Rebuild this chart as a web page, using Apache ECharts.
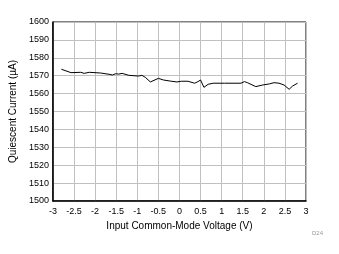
<!DOCTYPE html>
<html>
<head>
<meta charset="utf-8">
<script src="https://cdn.jsdelivr.net/npm/echarts@6/dist/echarts.min.js"></script>
<style>
  html, body { margin: 0; padding: 0; background: #fff; }
  #main { width: 339px; height: 254px; }
</style>
</head>
<body>
<div id="main"></div>
<script>
// values
var voltage = [-2.8, -2.57, -2.34, -2.26, -2.14, -1.87, -1.67, -1.59, -1.51, -1.44, -1.36, -1.2,
  -0.97, -0.89, -0.81, -0.69, -0.5, -0.38, -0.22, -0.06, 0.05, 0.2, 0.36, 0.44, 0.5, 0.58,
  0.68, 0.8, 1.07, 1.46, 1.54, 1.61, 1.81, 1.97, 2.13, 2.24, 2.36, 2.48, 2.6, 2.68, 2.8];
var current = [1573.6, 1571.7, 1571.9, 1571.3, 1571.9, 1571.5, 1570.8, 1570.4, 1571.1, 1570.9, 1571.3, 1570.2,
  1569.8, 1570.2, 1569.1, 1566.5, 1568.5, 1567.6, 1567.0, 1566.5, 1566.9, 1566.9, 1565.8, 1566.7, 1567.6, 1563.5,
  1565.2, 1565.8, 1565.8, 1565.8, 1566.7, 1566.1, 1563.9, 1564.8, 1565.4, 1566.1, 1565.8, 1564.8, 1562.4, 1564.2, 1565.8];

var points = [];
for (var i = 0; i < voltage.length; i++) {
  points.push([voltage[i], current[i]]);
}

var chart = echarts.init(document.getElementById('main'));
var font = 'Liberation Sans, Arial, sans-serif';

chart.setOption({
  animation: false,
  grid: { left: 52, right: 33, top: 22, bottom: 53, show: true, borderColor: '#000', borderWidth: 1 },
  xAxis: {
    type: 'value', min: -3, max: 3, interval: 0.5,
    name: 'Input Common-Mode Voltage (V)', nameLocation: 'middle', nameGap: 20,
    nameTextStyle: { fontFamily: font, fontSize: 10, color: '#000' },
    axisLine: { onZero: false, lineStyle: { color: '#000', width: 1.5 } },
    axisTick: { show: false },
    axisLabel: { fontFamily: font, fontSize: 9, color: '#000', margin: 6,
      formatter: function (v) { return String(v); } },
    splitLine: { lineStyle: { color: '#c0c0c0', width: 1 } }
  },
  yAxis: {
    type: 'value', min: 1500, max: 1600, interval: 10,
    name: 'Quiescent Current (\u00b5A)', nameLocation: 'middle', nameGap: 33,
    nameTextStyle: { fontFamily: font, fontSize: 10, color: '#000' },
    axisLine: { show: true, onZero: false, lineStyle: { color: '#000', width: 1.5 } },
    axisTick: { show: false },
    axisLabel: { fontFamily: font, fontSize: 9, color: '#000', margin: 4,
      formatter: function (v) { return String(v); } },
    splitLine: { lineStyle: { color: '#c0c0c0', width: 1 } }
  },
  graphic: [{
    type: 'text', left: 312, top: 230,
    style: { text: 'D24', fontFamily: font, fontSize: 6, fill: '#999' }
  }],
  series: [{
    type: 'line', data: points, showSymbol: false,
    lineStyle: { color: '#000', width: 1 }
  }]
});
</script>
</body>
</html>
